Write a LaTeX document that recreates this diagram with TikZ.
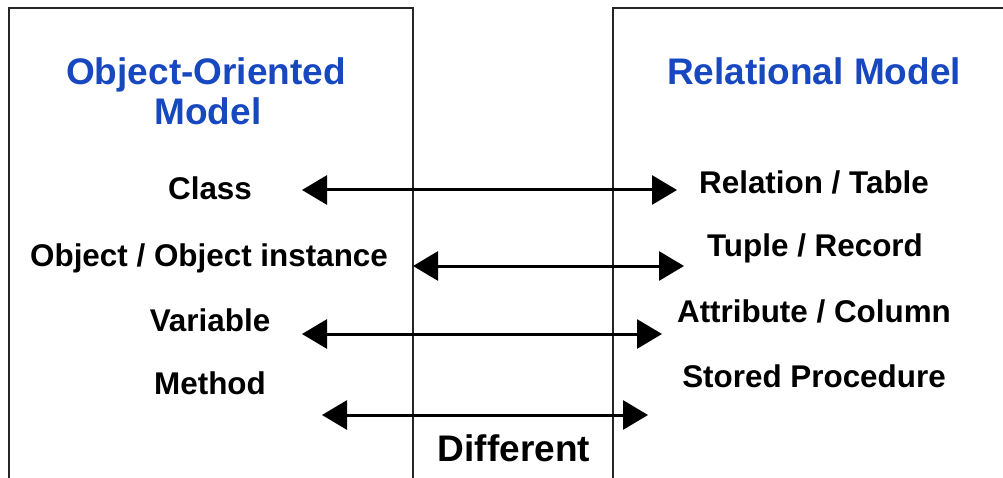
\documentclass[tikz,border=0pt]{standalone}
\usepackage{fontspec}
\setmainfont{Liberation Sans}
\usetikzlibrary{arrows.meta}
\definecolor{titleblue}{RGB}{24,72,192}
\tikzset{
  frame/.style={line width=1.6pt, draw=black!85},
  title/.style={font=\fontsize{37}{41}\selectfont\bfseries, text=titleblue, anchor=base, inner sep=0pt, align=center},
  item/.style={font=\fontsize{31.4}{35}\selectfont\bfseries, anchor=base, inner sep=0pt},
  biarrow/.style={line width=3pt, {Triangle[length=25pt,width=29pt]}-{Triangle[length=25pt,width=29pt]}}
}
\begin{document}
\begin{tikzpicture}[x=1pt,y=-1pt]
\useasboundingbox[fill=white] (0,0) rectangle (1003,478);
% frames
\draw[frame] (9,480) -- (9,8) -- (413,8) -- (413,480);
\draw[frame] (613,480) -- (613,8) -- (1010,8);
% titles
\node[title] (oo1) at (206,85) {Object-Oriented};
\node[title] (oo2) at (208,125) {Model};
\node[title] (rm) at (814,85) {Relational Model};
% left items
\node[item] (cls) at (210,200) {Class};
\node[item] (obj) at (209,266) {Object / Object instance};
\node[item] (var) at (210,331) {Variable};
\node[item] (mth) at (210,394) {Method};
% right items
\node[item] (rel) at (814,194) {Relation / Table};
\node[item] (tup) at (815,257) {Tuple / Record};
\node[item] (att) at (814,322) {Attribute / Column};
\node[item] (spr) at (814,387) {Stored Procedure};
\node[item, font=\fontsize{37}{41}\selectfont\bfseries] (dif) at (514,461) {Different};
% arrow ends
\coordinate (a1l) at (302,190); \coordinate (a1r) at (677,190);
\coordinate (a2l) at (413,266); \coordinate (a2r) at (684,266);
\coordinate (a3l) at (302,334); \coordinate (a3r) at (662,334);
\coordinate (a4l) at (322,415); \coordinate (a4r) at (648,415);
\draw[biarrow] (a1l) -- (a1r);
\draw[biarrow] (a2l) -- (a2r);
\draw[biarrow] (a3l) -- (a3r);
\draw[biarrow] (a4l) -- (a4r);
\end{tikzpicture}
\end{document}
